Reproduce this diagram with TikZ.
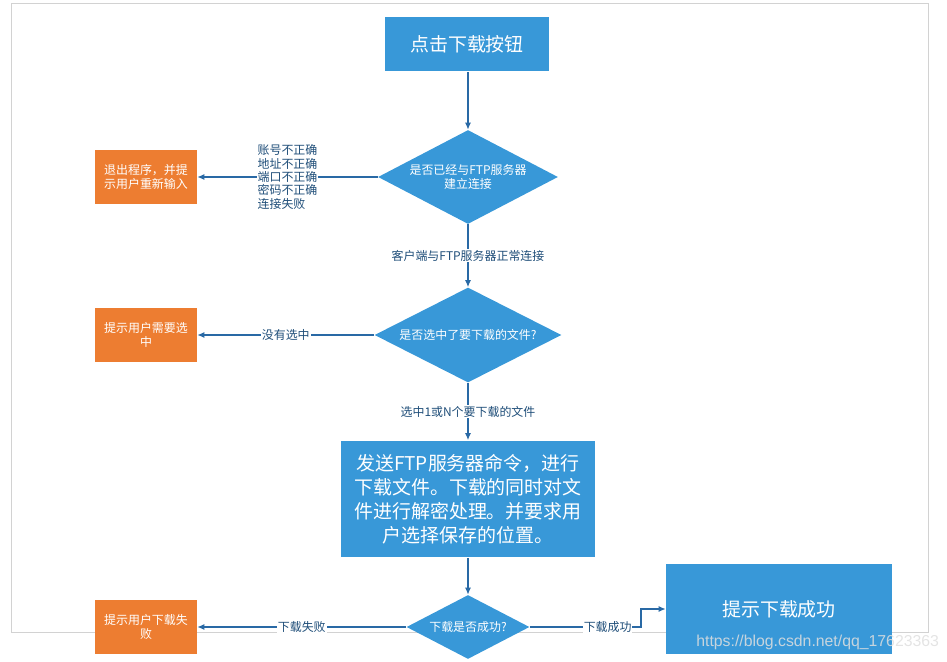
\documentclass[tikz,border=0pt]{standalone}
\usepackage{fontspec}
\newfontfamily\cjk{Noto Sans CJK SC}
\setsansfont{Liberation Sans}
\usetikzlibrary{shapes.geometric,arrows.meta}
\definecolor{boxblue}{RGB}{56,152,216}
\definecolor{boxorange}{RGB}{237,125,49}
\definecolor{linkblue}{RGB}{41,105,165}
\definecolor{textblue}{RGB}{31,78,121}

\begin{document}
\begin{tikzpicture}[x=0.02cm,y=-0.02cm]
\tikzstyle{bluebox}=[rectangle,fill=boxblue,text=white,font=\cjk\fontsize{10.8}{13.6}\selectfont,align=center,inner sep=0pt]
\tikzstyle{orangebox}=[rectangle,fill=boxorange,text=white,font=\cjk\fontsize{6.8}{8.2}\selectfont,align=center,minimum width=2.04cm,minimum height=1.1cm,inner sep=0pt]
\tikzstyle{choice}=[diamond,aspect=2,fill=boxblue,text=white,font=\cjk\fontsize{6.8}{8}\selectfont,align=center,inner sep=0pt]
\tikzstyle{link}=[draw=linkblue,line width=0.7pt,-{Latex[length=4pt,width=3.5pt]}]
\tikzstyle{tag}=[fill=white,text=textblue,font=\cjk\fontsize{6.8}{7.6}\selectfont,inner sep=0.5pt]

\useasboundingbox (0,0) rectangle (947,662);
\draw[gray!35] (11,3) rectangle (928,632);

\node[bluebox,minimum width=3.3cm,minimum height=1.1cm] (start) at (467,44) {点击下载按钮};
\node[choice,minimum width=3.6cm,minimum height=1.88cm] (c1) at (468,177) {是否已经与FTP服务器\\建立连接};
\node[orangebox] (quit) at (146,177) {退出程序，并提\\示用户重新输入};
\node[choice,minimum width=3.74cm,minimum height=1.9cm] (c2) at (468,335) {是否选中了要下载的文件?};
\node[orangebox] (pick) at (146,335) {提示用户需要选\\中};
\node[bluebox,minimum width=5.08cm,minimum height=2.34cm] (send) at (468,499) {发送FTP服务器命令，进行\\下载文件。下载的同时对文\\件进行解密处理。并要求用\\户选择保存的位置。};
\node[choice,minimum width=2.46cm,minimum height=1.28cm] (c3) at (468,627) {下载是否成功?};
\node[orangebox] (fail) at (146,627) {提示用户下载失\\败};
\node[bluebox,minimum width=4.52cm,minimum height=1.82cm] (done) at (779,609) {提示下载成功};

\draw[link] (start.south -| c1) -- (c1);
\draw[link] (c1) -- node[tag,align=left]{账号不正确\\地址不正确\\端口不正确\\密码不正确\\连接失败} (quit);
\draw[link] (c1) -- node[tag]{客户端与FTP服务器正常连接} (c2);
\draw[link] (c2) -- node[tag]{没有选中} (pick);
\draw[link] (c2) -- node[tag]{选中1或N个要下载的文件} (send);
\draw[link] (send) -- (c3);
\draw[link] (c3) -- node[tag]{下载失败} (fail);
\coordinate (turn) at (641,627);
\draw[link] (c3.east) -- node[tag,pos=0.7]{下载成功} (turn) |- (done.west);

% watermark
\node[text=white!75!gray,opacity=0.85,font=\sffamily\fontsize{9}{10}\selectfont,anchor=west,inner sep=0pt] (mark) at (696,642) {https://blog.csdn.net/qq\_17623363};
\end{tikzpicture}
\end{document}
